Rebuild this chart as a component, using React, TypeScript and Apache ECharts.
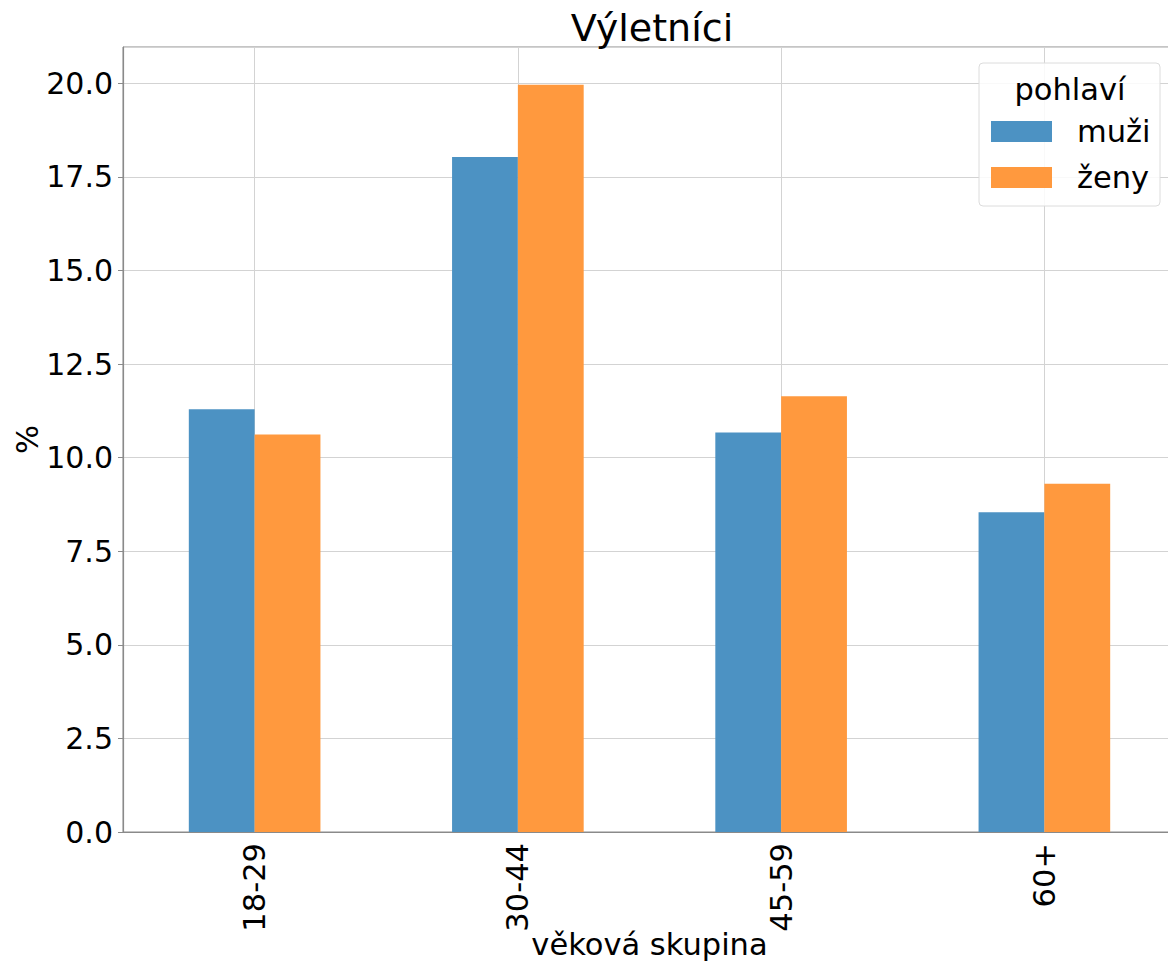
import React, { useEffect, useRef } from "react";
import * as echarts from "echarts";

const categories = ["18-29", "30-44", "45-59", "60+"];
const muzi = [11.29, 18.03, 10.67, 8.54];
const zeny = [10.62, 19.96, 11.64, 9.3];
const seriesNames = ["muži", "ženy"];
const titleText = "Výletníci";
const legendTitle = "pohlaví";
const xName = "věková skupina";
const yName = "%";

const FONT = "DejaVu Sans";

export default function App() {
  const ref = useRef<HTMLDivElement>(null);
  useEffect(() => {
    if (!ref.current) return;
    const chart = echarts.init(ref.current, undefined, { renderer: "svg" });
    const axisColor = "#8a8a8a";
    chart.setOption({
      animation: false,
      textStyle: { fontFamily: FONT, color: "#000" },
      title: {
        text: titleText,
        left: 647,
        textAlign: "center",
        top: 4,
        textStyle: { fontFamily: FONT, fontSize: 38, fontWeight: "normal", color: "#000" },
      },
      grid: {
        left: 123,
        top: 47,
        right: -8,
        bottom: 129,
        show: true,
        borderColor: axisColor,
        borderWidth: 1,
        containLabel: false,
        outerBoundsMode: "none",
      },
      xAxis: {
        type: "category",
        data: categories,
        name: xName,
        nameLocation: "middle",
        nameGap: 97,
        nameMoveOverlap: false,
        nameTextStyle: { fontFamily: FONT, fontSize: 30.5, color: "#000" },
        axisLine: { lineStyle: { color: axisColor, width: 1.2 } },
        axisTick: { alignWithLabel: true, length: 5, lineStyle: { color: axisColor } },
        splitLine: { show: true, alignWithLabel: true, lineStyle: { color: "#d3d3d3", width: 1 } },
        axisLabel: {
          rotate: 90,
          fontFamily: FONT,
          fontSize: 30.5,
          color: "#000",
          margin: 11,
        },
      },
      yAxis: {
        type: "value",
        min: 0,
        max: 20.97,
        interval: 2.5,
        name: yName,
        nameLocation: "middle",
        nameGap: 80,
        nameMoveOverlap: false,
        nameTextStyle: { fontFamily: FONT, fontSize: 30.5, color: "#000" },
        axisLine: { show: true, lineStyle: { color: axisColor, width: 1.2 } },
        axisTick: { show: true, length: 5, lineStyle: { color: axisColor } },
        splitLine: { show: true, lineStyle: { color: "#d3d3d3", width: 1 } },
        axisLabel: {
          fontFamily: FONT,
          fontSize: 30,
          color: "#000",
          margin: 10,
          showMaxLabel: false,
          formatter: (v: number) => (v > 20.5 ? "" : v.toFixed(1)),
        },
      },
      legend: {
        orient: "vertical",
        left: 991,
        top: 116,
        padding: 0,
        itemWidth: 61,
        itemHeight: 21,
        itemGap: 15,
        icon: "rect",
        z: 6,
        textStyle: { fontFamily: FONT, fontSize: 30.5, color: "#000", padding: [0, 0, 0, 20] },
        data: seriesNames,
      },
      graphic: [
        {
          type: "rect",
          z: 5,
          shape: { x: 979, y: 63, width: 181, height: 143, r: 4 },
          style: { fill: "rgba(255,255,255,0.85)", stroke: "#dcdcdc", lineWidth: 1 },
        },
        {
          type: "text",
          z: 6,
          x: 1070,
          y: 89,
          style: {
            text: legendTitle,
            fontFamily: FONT,
            fontSize: 30.5,
            fill: "#000",
            textAlign: "center",
            textVerticalAlign: "middle",
          },
        },
      ],
      series: [
        {
          name: seriesNames[0],
          type: "bar",
          data: muzi,
          barGap: "0%",
          barCategoryGap: "50%",
          itemStyle: { color: "#4c92c3" },
        },
        {
          name: seriesNames[1],
          type: "bar",
          data: zeny,
          barGap: "0%",
          barCategoryGap: "50%",
          itemStyle: { color: "#ff993e" },
        },
      ],
    });
    return () => chart.dispose();
  }, []);
  return (
    <div
      ref={ref}
      style={{ position: "absolute", left: 0, top: 0, width: 1168, height: 961, background: "#fff" }}
    />
  );
}
